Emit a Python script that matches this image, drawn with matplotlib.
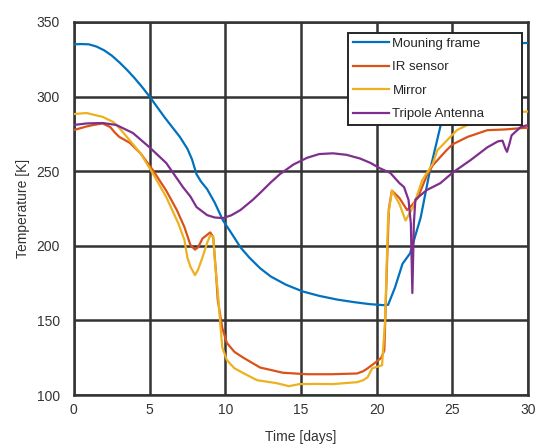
import matplotlib
matplotlib.use("Agg")
import matplotlib.pyplot as plt

plt.rcParams['font.family'] = ['Liberation Sans', 'DejaVu Sans']

# Mounting frame
frame_days = [0, 0.5, 1, 1.5, 2, 2.5, 3, 3.5, 4, 4.5, 5, 5.5, 6, 6.5, 7, 7.5,
              7.8, 8.1, 8.4, 8.8, 9.3, 9.85, 10.5, 11, 11.6, 12.3, 13, 14, 15.1,
              16.2, 17.4, 18.5, 19.5, 20.4, 20.75, 21.2, 21.7, 22.2, 22.9, 23.5,
              24.2, 25, 26, 27, 28, 30]
frame_temp = [335, 335.2, 335, 333.5, 331, 327.5, 323, 318, 312.5, 306.5, 300,
              293, 286, 279.5, 273, 265, 258, 248, 243, 238, 229, 217, 207, 199,
              192, 185, 179.5, 174, 169.5, 166.5, 164, 162.3, 161, 160.3, 160.5,
              172, 188, 195, 219, 250, 280, 305, 325, 333, 335, 336]

# IR sensor
ir_days = [0, 0.5, 0.84, 1.3, 1.9, 2.4, 2.7, 3.0, 3.7, 4.4, 5.2, 6.1, 6.8, 7.3,
           7.7, 8.0, 8.2, 8.5, 9.0, 9.2, 9.4, 9.5, 9.8, 10.1, 10.6, 11.2, 12.3,
           13.8, 15.4, 17, 18.7, 19.1, 19.4, 19.8, 20.3, 20.5, 20.65, 20.8, 21.0,
           21.5, 22.0, 22.3, 22.7, 23.3, 23.7, 24.6, 25.0, 26, 27.3, 28.5, 29.7, 30]
ir_temp = [277.6, 279, 280, 281, 282, 279.6, 276, 273, 269, 262, 251, 237, 224,
           212.6, 200.5, 197.5, 199, 205, 209, 206, 180, 164, 145, 135, 129, 125,
           118.5, 115, 114, 114, 114.5, 116, 118, 121, 125, 130, 180, 225, 237,
           232, 224, 227, 232, 247, 254, 264, 268, 273, 277.5, 278, 279, 279]

# Mirror
mirror_days = [0, 0.84, 1.9, 2.6, 3.0, 3.5, 4.4, 5.2, 6.1, 6.9, 7.3, 7.5, 7.7,
               8.0, 8.2, 8.5, 8.8, 9.0, 9.2, 9.35, 9.5, 9.65, 9.8, 10.1, 10.6,
               11.2, 12.1, 13.4, 14.2, 14.9, 16, 17.1, 18.7, 19.1, 19.4, 19.7,
               20.35, 20.55, 20.75, 21.0, 21.5, 21.9, 22.4, 23.0, 23.7, 24.0,
               25.3, 26, 27, 28, 29, 30]
mirror_temp = [288.3, 289, 286.4, 283, 279, 273, 262, 248.8, 232.7, 215, 204,
               192, 186, 180.4, 184, 192.5, 202, 207, 206, 185, 170, 150, 132,
               123.5, 118, 114.7, 110, 108, 106, 107.4, 107.5, 107.4, 108.7, 110,
               112, 118, 120, 150, 220, 237, 228, 217, 226, 244, 255, 264, 277.6,
               281, 285, 288, 289.5, 290]

# Tripole antenna
antenna_days = [0, 0.84, 1.9, 2.8, 3.9, 5.0, 6.1, 7.2, 7.7, 8.1, 8.8, 9.3, 9.85,
                10.4, 11, 11.8, 12.3, 13, 13.6, 14.5, 15.4, 16.2, 17.1, 18.0,
                18.9, 19.6, 20.2, 20.9, 21.5, 21.8, 22.1, 22.25, 22.35, 22.45,
                22.55, 23.3, 24.2, 25.0, 26.2, 27.3, 28.0, 28.3, 28.5, 28.6,
                28.75, 28.9, 29.5, 30]
antenna_temp = [281, 282, 282.3, 281, 275.6, 266, 255.5, 239.4, 233, 226, 220.6,
                219, 218.6, 220.5, 224, 230.7, 235.5, 242.5, 248, 254.5, 259,
                261.5, 262, 261, 258.5, 255.5, 252, 248.8, 242, 239.4, 230.7, 215,
                168.4, 215, 231, 237.4, 242, 249, 257.5, 266, 270, 270.5, 265,
                263, 268, 274, 279.6, 281]

series_labels = ["Mouning frame", "IR sensor", "Mirror", "Tripole Antenna"]
x_ticks = [0, 5, 10, 15, 20, 25, 30]
y_ticks = [100, 150, 200, 250, 300, 350]

colors = ["#0072BD", "#D95319", "#EDB120", "#7E2F8E"]
text_color = "#333333"
grid_color = "#333333"

fig = plt.figure(figsize=(5.39, 4.48), dpi=100)
ax = fig.add_axes([0.137, 0.118, 0.843, 0.833])

series = [(frame_days, frame_temp), (ir_days, ir_temp),
          (mirror_days, mirror_temp), (antenna_days, antenna_temp)]
for (d, t), c, lab in zip(series, colors, series_labels):
    ax.plot(d, t, color=c, lw=1.6, label=lab, zorder=3,
            solid_joinstyle='round')

ax.set_xlim(0, 30)
ax.set_ylim(100, 350)
ax.set_xticks(x_ticks)
ax.set_yticks(y_ticks)
ax.grid(True, color=grid_color, lw=1.8, zorder=1)
ax.set_axisbelow(True)
for sp in ax.spines.values():
    sp.set_color(grid_color)
    sp.set_linewidth(1.8)
ax.tick_params(length=0, labelsize=10, colors=text_color)
ax.tick_params(axis='x', pad=6)
ax.tick_params(axis='y', pad=10)

ax.set_xlabel("Time [days]", fontsize=10, color=text_color, labelpad=9)
ax.set_ylabel("Temperature [K]", fontsize=10, color=text_color, labelpad=5)

leg = ax.legend(loc="upper left", bbox_to_anchor=(0.6035, 0.0, 0.383, 0.971),
                mode="expand", fontsize=9.5, fancybox=False, framealpha=1,
                edgecolor="#262626", borderaxespad=0.0, handlelength=2.78,
                handletextpad=0.23, labelspacing=0.86, borderpad=0.35)
leg.get_frame().set_linewidth(1.4)
for txt in leg.get_texts():
    txt.set_color("#262626")

fig.savefig("out.png", dpi=100)
